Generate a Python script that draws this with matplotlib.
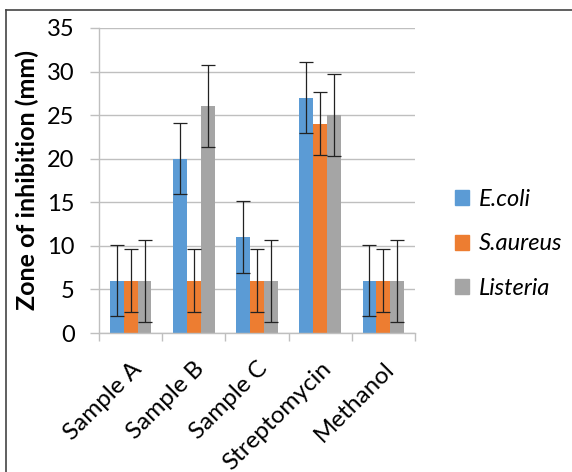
import matplotlib
matplotlib.use("Agg")
import matplotlib.pyplot as plt
import numpy as np
from matplotlib.lines import Line2D

categories = ["Sample A", "Sample B", "Sample C", "Streptomycin", "Methanol"]
series_names = ["E.coli", "S.aureus", "Listeria"]
ecoli = [6, 20, 11, 27, 6]
saureus = [6, 6, 6, 24, 6]
listeria = [6, 26, 6, 25, 6]
ecoli_err = [4.1, 4.1, 4.1, 4.1, 4.1]
saureus_err = [3.6, 3.6, 3.6, 3.6, 3.6]
listeria_err = [4.7, 4.7, 4.7, 4.7, 4.7]
colors = ["#5B9BD5", "#ED7D31", "#A5A5A5"]

plt.rcParams['font.family'] = ['Lato', 'DejaVu Sans']

fig = plt.figure(figsize=(5.72, 4.72), dpi=100)
ax = fig.add_axes([99/572, 1-333/472, (415-99)/572, (333-28)/472])

x = np.arange(len(categories))
w = 0.22
data = [ecoli, saureus, listeria]
errs = [ecoli_err, saureus_err, listeria_err]
for i, (vals, e, c, n) in enumerate(zip(data, errs, colors, series_names)):
    ax.bar(x + (i-1)*w, vals, w, color=c, label=n, zorder=2,
           yerr=e, capsize=5,
           error_kw=dict(ecolor='#222222', elinewidth=0.9, capthick=0.9, zorder=3))

ax.set_xlim(-0.5, len(categories)-0.5)
ax.set_ylim(0, 35)
ax.set_yticks(np.arange(0, 36, 5))
ax.yaxis.grid(True, color='#BFBFBF', linewidth=1, zorder=0)
ax.set_axisbelow(True)
for s in ['top', 'right']:
    ax.spines[s].set_visible(False)
for s in ['left', 'bottom']:
    ax.spines[s].set_color('#BFBFBF')
    ax.spines[s].set_linewidth(1)

ax.set_xticks(x)
ax.set_xticklabels(categories, rotation=45, ha='right', rotation_mode='anchor', fontsize=17.5)
ax.tick_params(axis='x', length=0, pad=18)
ax.set_xticks(np.arange(-0.5, len(categories), 1), minor=True)
ax.tick_params(axis='x', which='minor', length=6, color='#BFBFBF', width=1)
ax.tick_params(axis='y', length=6.5, color='#BFBFBF', width=1, labelsize=17, pad=11)
ax.set_ylabel("Zone of inhibition (mm)", fontsize=18, fontweight='bold', labelpad=6)

handles = [plt.Rectangle((0, 0), 1, 1, color=c) for c in colors]
leg = fig.legend(handles, series_names, loc='center left', bbox_to_anchor=(455/572, 1-244/472),
                 frameon=False, handlelength=0.6, handleheight=0.6, handletextpad=0.4,
                 labelspacing=1.0, borderpad=0, borderaxespad=0,
                 prop=dict(family=['Lato', 'DejaVu Sans'], style='italic', size=17))

fig.add_artist(Line2D([6/572, 6/572], [0, 1-10/472], transform=fig.transFigure, color='#444444', linewidth=1.2))
fig.add_artist(Line2D([6/572, 1], [1-10/472, 1-10/472], transform=fig.transFigure, color='#444444', linewidth=1.2))

fig.savefig("out.png", dpi=100)
